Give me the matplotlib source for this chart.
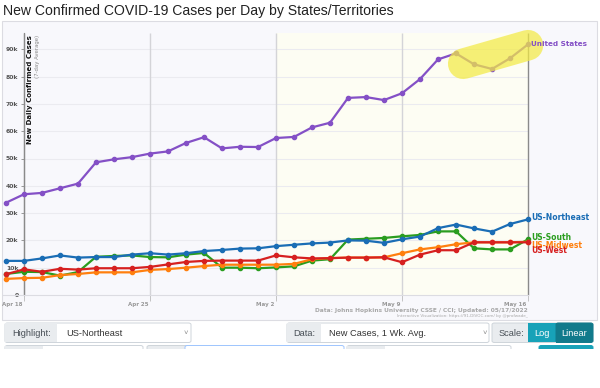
import matplotlib
matplotlib.use('Agg')
import matplotlib.pyplot as plt
from matplotlib.patches import FancyBboxPatch, Rectangle
import matplotlib.transforms as mtrans

# ---------------- data ----------------
dates = ['Apr 17', 'Apr 18', 'Apr 19', 'Apr 20', 'Apr 21', 'Apr 22', 'Apr 23', 'Apr 24',
         'Apr 25', 'Apr 26', 'Apr 27', 'Apr 28', 'Apr 29', 'Apr 30', 'May 1', 'May 2',
         'May 3', 'May 4', 'May 5', 'May 6', 'May 7', 'May 8', 'May 9', 'May 10',
         'May 11', 'May 12', 'May 13', 'May 14', 'May 15', 'May 16']

united_states = [33800, 36900, 37400, 39100, 40800, 48600, 49700, 50500, 51800, 52600,
                 55700, 57800, 53700, 54300, 54200, 57500, 57900, 61400, 63100, 72200,
                 72500, 71400, 73900, 79100, 86300, 88500, 84500, 82800, 86700, 91800]
us_northeast = [12500, 12500, 13400, 14500, 13700, 13900, 13900, 14800, 15300, 14800,
                15300, 16100, 16500, 17000, 17100, 17900, 18400, 18900, 19200, 20000,
                19900, 19100, 20400, 21400, 24500, 25800, 24400, 23200, 26000, 27700]
us_south = [7700, 8500, 8400, 7100, 8400, 14000, 14300, 14500, 13900, 13800,
            14800, 15400, 10000, 10000, 9800, 10100, 10500, 12600, 13100, 20300,
            20600, 20900, 21500, 22000, 23300, 23300, 17100, 16700, 16700, 20400]
us_midwest = [5900, 6200, 6300, 7300, 7700, 8300, 8300, 8300, 9200, 9500,
              10000, 10600, 11100, 11100, 11100, 11100, 11400, 13100, 13500, 13700,
              13700, 13800, 15300, 16700, 17500, 18600, 19300, 19300, 19300, 19500]
us_west = [7600, 9400, 8500, 9600, 9300, 9800, 9800, 9800, 10300, 11200,
           12100, 12500, 12600, 12600, 12600, 14500, 13800, 13400, 13500, 13700,
           13700, 13800, 12000, 14800, 16400, 16400, 19300, 19300, 19300, 19300]

tick_dates = ['Apr 18', 'Apr 25', 'May 2', 'May 9', 'May 16']
y_ticks = [0, 10000, 20000, 30000, 40000, 50000, 60000, 70000, 80000, 90000]
y_tick_labels = ['0', '10k', '20k', '30k', '40k', '50k', '60k', '70k', '80k', '90k']

series = [
    ('US-South', us_south, '#2a9d1f'),
    ('US-Midwest', us_midwest, '#ff7f0e'),
    ('US-West', us_west, '#d62020'),
    ('US-Northeast', us_northeast, '#1a6db5'),
    ('United States', united_states, '#8450c6'),
]

# ---------------- figure ----------------
W, H = 600, 388
plt.rcParams['font.family'] = ['DejaVu Sans']
fig = plt.figure(figsize=(W / 100, H / 100), dpi=100)
fig.patch.set_facecolor('white')


def fr(x0, y0, x1, y1):
    """pixel box (top-left origin) -> figure fraction rect"""
    return (x0 / W, 1 - y1 / H, (x1 - x0) / W, (y1 - y0) / H)


# outer panel
px0, py0, px1, py1 = 2, 21, 597, 320
fig.patches.append(Rectangle((px0 / W, 1 - py1 / H), (px1 - px0) / W, (py1 - py0) / H,
                             transform=fig.transFigure, facecolor='#f8f8fc',
                             edgecolor='#dcdce2', lw=0.8, zorder=-5))

ax = fig.add_axes(fr(px0 + 1, py0 + 1, px1 - 1, py1 - 1))
ax.set_zorder(2)
ax.set_facecolor('none')

x = list(range(len(dates)))
# pixel mapping: day i at 6 + 18*i ; value v at 295 - v*0.00273
ax.set_xlim((px0 + 1 - 6) / 18, (px1 - 1 - 6) / 18)
ax.set_ylim((295 - (py1 - 1)) / 0.00273, (295 - (py0 + 1)) / 0.00273)

i_first = dates.index(tick_dates[0])
i_last = dates.index(tick_dates[-1])
i_may2 = dates.index('May 2')
y_top = 96000

# yellow "current" region
ax.add_patch(Rectangle((i_may2, 0), i_last - i_may2, y_top, facecolor='#fdfdf3',
                       edgecolor='none', zorder=0))

# horizontal grid
ax.hlines(y_ticks[1:], i_first, i_last, color='#ebebf0', lw=0.8, zorder=1)
# vertical grid
for td in tick_dates:
    i = dates.index(td)
    c = '#8a8a8a' if td in (tick_dates[0], tick_dates[-1]) else '#d4d4d8'
    ax.vlines(i, 0, y_top, color=c, lw=1.0, zorder=1)

# axes spines as axis lines
for s in ['top', 'right']:
    ax.spines[s].set_visible(False)
ax.spines['left'].set_position(('data', i_first))
ax.spines['left'].set_bounds(0, y_top)
ax.spines['left'].set_color('#8a8a8a')
ax.spines['bottom'].set_position(('data', 0))
ax.spines['bottom'].set_bounds(ax.get_xlim()[0], i_last)
ax.spines['bottom'].set_color('#dcdce2')
ax.spines['bottom'].set_linewidth(0.8)

ax.set_yticks(y_ticks)
ax.set_yticklabels(y_tick_labels)
ax.tick_params(axis='y', length=2.5, width=0.6, color='#8a8a8a', pad=1.5,
               labelsize=4.4, labelcolor='#555555')
for lab in ax.get_yticklabels():
    lab.set_fontweight('bold')

ax.set_xticks([dates.index(t) for t in tick_dates])
ax.set_xticklabels(tick_dates)
ax.tick_params(axis='x', length=4, width=0.6, color='#bbbbbb', pad=1,
               labelsize=4.0, labelcolor='#999999')
off = mtrans.ScaledTranslation(-2 / 100, 0, fig.dpi_scale_trans)
for lab in ax.get_xticklabels():
    lab.set_horizontalalignment('right')
    lab.set_fontweight('bold')
    lab.set_transform(lab.get_transform() + off)

# lines
for name, vals, col in series:
    ax.plot(x, vals, color=col, lw=1.6, marker='o', ms=3.0, zorder=3,
            solid_joinstyle='round', solid_capstyle='round')

# highlighter around the last United States points
hx = [x[-5] + 0.4, x[-1]]
hy = [united_states[-5] - 3800, united_states[-1] - 300]
ax.plot(hx, hy, color='#f3ea45', alpha=0.72, lw=22, solid_capstyle='round', zorder=4)

# end labels
label_offsets = {'United States': 0, 'US-Northeast': 1, 'US-South': 1,
                 'US-Midwest': -2.5, 'US-West': -6}
for name, vals, col in series:
    ax.annotate(name, (x[-1], vals[-1]), xytext=(2.2, label_offsets[name]),
                textcoords='offset points', va='center', ha='left', color=col,
                fontsize=5.2 if name == 'United States' else 5.5,
                fontweight='semibold' if name == 'United States' else 'bold', zorder=5)

# y axis title inside plot
ax.text(1 + (27 - 24) / 18, y_top - 800, 'New Daily Confirmed Cases', rotation=90,
        ha='left', va='top', fontsize=5.0, fontweight='bold', color='#111111')
ax.text(1 + (35.5 - 24) / 18, y_top - 800, '(7-day Average)', rotation=90,
        ha='left', va='top', fontsize=3.9, color='#888888')

# source
fig.text(528 / W, 1 - 310.5 / H, 'Data: Johns Hopkins University CSSE / CCI; Updated: 05/17/2022',
         ha='right', va='center', fontsize=4.2, fontweight='bold', color='#a8a8a8')
fig.text(528 / W, 1 - 316.3 / H, 'Interactive Visualization: https://91-DIVOC.com/ by @profwade_',
         ha='right', va='center', fontsize=3.0, color='#a8a8a8')

# title
fig.text(3 / W, 1 - 10.5 / H, 'New Confirmed COVID-19 Cases per Day by States/Territories',
         ha='left', va='center', fontsize=10.1, color='#222222', family='Liberation Sans')


# ---------------- controls ----------------
def box(x0, y0, x1, y1, fc, ec='#ced4da', r=2.5, z=1):
    fig.patches.append(FancyBboxPatch((x0 / W, 1 - y1 / H), (x1 - x0) / W, (y1 - y0) / H,
                                      boxstyle=f'round,pad=0,rounding_size={r / W}',
                                      transform=fig.transFigure, facecolor=fc,
                                      edgecolor=ec, lw=0.7, zorder=z))


def rect(x0, y0, x1, y1, fc, ec='none', z=2):
    fig.patches.append(Rectangle((x0 / W, 1 - y1 / H), (x1 - x0) / W, (y1 - y0) / H,
                                 transform=fig.transFigure, facecolor=fc, edgecolor=ec,
                                 lw=0.7, zorder=z))


def ctext(xp, yp, s, color='#495057', size=6.7, ha='left', weight='normal'):
    fig.text(xp / W, 1 - yp / H, s, ha=ha, va='center', fontsize=size, color=color,
             fontweight=weight, family='Liberation Sans')


cy0, cy1 = 323, 342.5
# Highlight
box(5, cy0, 191, cy1, 'white')
rect(5.4, cy0 + 0.4, 57, cy1 - 0.4, '#e9ecef')
rect(57, cy0, 57.3, cy1, '#ced4da')
ctext(12, 333, 'Highlight:')
ctext(66, 333, 'US-Northeast', color='#333333')
ctext(186, 333, '\u02c5', color='#888888', size=5.5, ha='center')
# Data
box(287, cy0, 489, cy1, 'white')
rect(287.4, cy0 + 0.4, 321, cy1 - 0.4, '#e9ecef')
rect(321, cy0, 321.3, cy1, '#ced4da')
ctext(293, 333, 'Data:')
ctext(329, 333, 'New Cases, 1 Wk. Avg.', color='#333333')
ctext(485, 333, '\u02c5', color='#888888', size=5.5, ha='center')
# Scale
box(492, cy0, 593, cy1, '#e9ecef')
rect(528, cy0 + 0.3, 556, cy1 - 0.3, '#17a2b8')
box(556, cy0, 593, cy1, '#117a8b', ec='#117a8b', z=3)
rect(556, cy0, 560, cy1, '#117a8b', z=3)
ctext(499, 333, 'Scale:')
ctext(542, 333, 'Log', color='white', ha='center')
ctext(574.5, 333, 'Linear', color='white', ha='center')

# second row (partially visible)
r0, r1 = 345.5, 352
box(5, r0, 143, r1, 'white')
rect(5.4, r0 + 0.4, 43, r1, '#e9ecef')
box(147, r0, 300, r1, '#e9ecef')
box(185, r0, 344, r1, 'white', ec='#9ec5fe')
box(347, r0, 511, r1, 'white')
rect(347.4, r0 + 0.4, 385, r1, '#e9ecef')
box(539, r0, 593, r1, '#17a2b8', ec='#17a2b8')
rect(0, 348.5, W, H, 'white', z=6)

fig.savefig('out.png', dpi=100, facecolor='white')
